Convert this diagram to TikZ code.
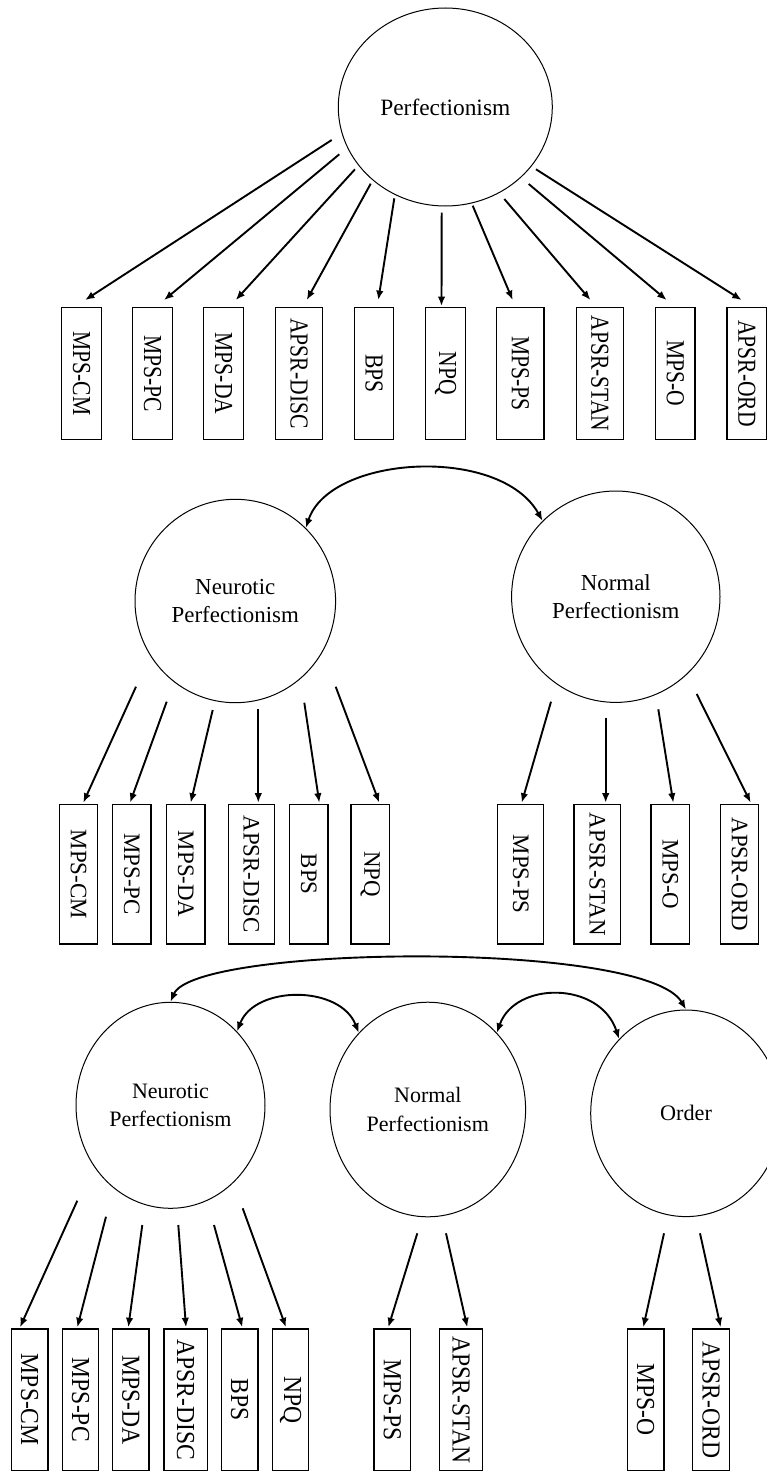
\documentclass[tikz,border=0pt]{standalone}
\usepackage{fontspec}
\setmainfont{Liberation Serif}
\usetikzlibrary{arrows.meta,shapes.geometric}
\newcommand\rowAfont{\fontsize{21.6}{26}\selectfont}
\newcommand\rowBfont{\fontsize{22.9}{27}\selectfont}
\newcommand\rowCfont{\fontsize{23.6}{28}\selectfont}
\newcommand\vlabel[2]{\rotatebox{-90}{\scalebox{1}[#1]{#2}}}
\begin{document}
\begin{tikzpicture}[x=1pt,y=-1pt,
  latent/.style={ellipse, draw, line width=1pt, inner sep=0pt, align=center},
  obs/.style={draw, line width=1.3pt, inner sep=0pt},
  obsA/.style={obs, minimum width=39.5pt, minimum height=131.5pt},
  obsAw/.style={obs, minimum width=47.3pt, minimum height=131.5pt},
  obsB/.style={obs, minimum width=38.3pt, minimum height=139.7pt},
  obsBw/.style={obs, minimum width=46.2pt, minimum height=139.7pt},
  obsC/.style={obs, minimum width=36.4pt, minimum height=141.7pt},
  obsCw/.style={obs, minimum width=43.3pt, minimum height=141.7pt},
  tipstyle/.style={-{Latex[length=9.5pt,width=7.5pt]}},
  arr/.style={line width=1.9pt, tipstyle},
  cov/.style={line width=1.9pt, {Latex[length=9.5pt,width=7.5pt]}-{Latex[length=9.5pt,width=7.5pt]}}]
\clip (0,0) rectangle (767,1474);
\fill[white] (0,0) rectangle (767,1474);

% ---------- one-factor model ----------
\node[latent, minimum width=214pt, minimum height=198pt,
      font=\fontsize{23.4}{28}\selectfont] (perf) at (445.3,107) {Perfectionism};

\node[obsA]  (a1)  at (81.5,373.5)  {\rowAfont\vlabel{1.2}{MPS-CM}};
\node[obsA]  (a2)  at (152.5,373.5) {\rowAfont\vlabel{1.2}{MPS-PC}};
\node[obsA]  (a3)  at (223.5,373.5) {\rowAfont\vlabel{1.2}{MPS-DA}};
\node[obsAw] (a4)  at (299,373.5)   {\rowAfont\vlabel{1.2}{APSR-DISC}};
\node[obsA]  (a5)  at (374,373.5)   {\rowAfont\vlabel{1.2}{BPS}};
\node[obsA]  (a6)  at (445.5,373.5) {\rowAfont\vlabel{1.2}{NPQ}};
\node[obsAw] (a7)  at (520.3,373.5) {\rowAfont\vlabel{1.2}{MPS-PS}};
\node[obsAw] (a8)  at (599.8,373.5) {\rowAfont\vlabel{1.2}{APSR-STAN}};
\node[obsA]  (a9)  at (675.3,373.5) {\rowAfont\vlabel{1.2}{MPS-O}};
\node[obsA]  (a10) at (746.8,373.5) {\rowAfont\vlabel{1.2}{APSR-ORD}};

\coordinate (sa1)  at (331.7,140);
\coordinate (sa2)  at (339.3,154.3);
\coordinate (sa3)  at (355,169.3);
\coordinate (sa4)  at (370.7,183.7);
\coordinate (sa5)  at (394.3,198.3);
\coordinate (sa6)  at (441.7,212.7);
\coordinate (sa7)  at (472.7,205.7);
\coordinate (sa8)  at (504.3,199);
\coordinate (sa9)  at (528.7,184);
\coordinate (sa10) at (536,169.3);

\draw[arr] (sa1)  -- ([xshift=3.5pt,yshift=7pt]a1.north);
\draw[arr] (sa2)  -- ([xshift=11.5pt,yshift=7pt]a2.north);
\draw[arr] (sa3)  -- ([xshift=12.2pt,yshift=7pt]a3.north);
\draw[arr] (sa4)  -- ([xshift=7.7pt,yshift=7pt]a4.north);
\draw[arr] (sa5)  -- ([xshift=4.3pt,yshift=7pt]a5.north);
\draw[arr] (sa6)  -- ([xshift=-4pt,yshift=1pt]a6.north);
\draw[arr] (sa7)  -- ([xshift=-7.6pt,yshift=7pt]a7.north);
\draw[arr] (sa8)  -- ([xshift=-9.3pt,yshift=7pt]a8.north);
\draw[arr] (sa9)  -- ([xshift=-8.6pt,yshift=7pt]a9.north);
\draw[arr] (sa10) -- ([xshift=-5.1pt,yshift=7pt]a10.north);

% ---------- two-factor model ----------
\node[latent, minimum width=200.6pt, minimum height=203.4pt,
      font=\fontsize{22.9}{28.4}\selectfont] (neu) at (235.3,601) {Neurotic\\Perfectionism};
\node[latent, minimum width=208.4pt, minimum height=211.4pt,
      font=\fontsize{22.9}{27.7}\selectfont] (nor) at (615.8,596.7) {Normal\\Perfectionism};

\draw[cov] (neu.46) .. controls (330,455) and (500,445) .. (nor.134);

\node[obsB]  (b1)  at (78.5,874.2)  {\rowBfont\vlabel{1.03}{MPS-CM}};
\node[obsB]  (b2)  at (131.8,874.2) {\rowBfont\vlabel{1.03}{MPS-PC}};
\node[obsB]  (b3)  at (185.8,874.2) {\rowBfont\vlabel{1.03}{MPS-DA}};
\node[obsBw] (b4)  at (251.3,874.2) {\rowBfont\vlabel{1.03}{APSR-DISC}};
\node[obsB]  (b5)  at (308.8,874.2) {\rowBfont\vlabel{1.03}{BPS}};
\node[obsB]  (b6)  at (370.2,874.2) {\rowBfont\vlabel{1.03}{NPQ}};
\node[obsBw] (b7)  at (520.7,874.2) {\rowBfont\vlabel{1.03}{MPS-PS}};
\node[obsBw] (b8)  at (597.2,874.2) {\rowBfont\vlabel{1.03}{APSR-STAN}};
\node[obsB]  (b9)  at (670.2,874.2) {\rowBfont\vlabel{1.03}{MPS-O}};
\node[obsB]  (b10) at (739.5,874.2) {\rowBfont\vlabel{1.03}{APSR-ORD}};

\coordinate (sb1)  at (136,686.7);
\coordinate (sb2)  at (166.7,701.7);
\coordinate (sb3)  at (212.7,710);
\coordinate (sb4)  at (258.3,709.3);
\coordinate (sb5)  at (304.3,702.7);
\coordinate (sb6)  at (335.7,686.7);
\coordinate (sb7)  at (551,701.7);
\coordinate (sb8)  at (605.7,717.7);
\coordinate (sb9)  at (658.3,709.3);
\coordinate (sb10) at (696.7,694);

\draw[arr] (sb1)  -- ([xshift=4.8pt,yshift=1pt]b1.north);
\draw[arr] (sb2)  -- ([xshift=-1.8pt,yshift=1pt]b2.north);
\draw[arr] (sb3)  -- ([xshift=4.9pt,yshift=1pt]b3.north);
\draw[arr] (sb4)  -- ([xshift=7pt,yshift=1pt]b4.north);
\draw[arr] (sb5)  -- ([xshift=10.5pt,yshift=1pt]b5.north);
\draw[arr] (sb6)  -- ([xshift=9.1pt,yshift=1pt]b6.north);
\draw[arr] (sb7)  -- ([xshift=1pt,yshift=1pt]b7.north);
\draw[arr] (sb8)  -- ([xshift=8.5pt,yshift=1pt]b8.north);
\draw[arr] (sb9)  -- ([xshift=3.1pt,yshift=1pt]b9.north);
\draw[arr] (sb10) -- ([xshift=11.2pt,yshift=1pt]b10.north);

% ---------- three-factor model ----------
\node[latent, minimum width=189pt, minimum height=206pt,
      font=\fontsize{22}{28.4}\selectfont] (neu3) at (170.5,1105.3) {Neurotic\\Perfectionism};
\node[latent, minimum width=195.6pt, minimum height=214.6pt,
      font=\fontsize{22}{28.4}\selectfont] (nor3) at (427.8,1109.5) {Normal\\Perfectionism};
\node[latent, minimum width=190.6pt, minimum height=206.6pt,
      font=\fontsize{22.2}{28}\selectfont] (ord) at (686,1113.3) {Order};

\draw[cov] (neu3.north) .. controls (195,945) and (645,940) .. (ord.north);
\draw[cov] (neu3.48) .. controls (255,985) and (340,985) .. (nor3.132);
\draw[cov] (nor3.48) .. controls (515,981) and (600,981) .. (ord.132);

\node[obsC]  (c1)  at (29.7,1399.8)  {\rowCfont\vlabel{1.1}{MPS-CM}};
\node[obsC]  (c2)  at (80.5,1399.8)  {\rowCfont\vlabel{1.1}{MPS-PC}};
\node[obsC]  (c3)  at (130.8,1399.8) {\rowCfont\vlabel{1.1}{MPS-DA}};
\node[obsCw] (c4)  at (185.7,1399.8) {\rowCfont\vlabel{1.1}{APSR-DISC}};
\node[obsC]  (c5)  at (239.7,1399.8) {\rowCfont\vlabel{1.1}{BPS}};
\node[obsC]  (c6)  at (290.5,1399.8) {\rowCfont\vlabel{1.1}{NPQ}};
\node[obsC]  (c7)  at (392.3,1399.8) {\rowCfont\vlabel{1.1}{MPS-PS}};
\node[obsCw] (c8)  at (461,1399.8)   {\rowCfont\vlabel{1.1}{APSR-STAN}};
\node[obsC]  (c9)  at (645.7,1399.8) {\rowCfont\vlabel{1.1}{MPS-O}};
\node[obsC]  (c10) at (711,1399.8)   {\rowCfont\vlabel{1.1}{APSR-ORD}};

\coordinate (sc1)  at (77.3,1200.7);
\coordinate (sc2)  at (106,1216.7);
\coordinate (sc3)  at (142.3,1225);
\coordinate (sc4)  at (178.3,1225);
\coordinate (sc5)  at (214,1225);
\coordinate (sc6)  at (242.7,1208.3);
\coordinate (sc7)  at (417.3,1233.3);
\coordinate (sc8)  at (446,1233.3);
\coordinate (sc9)  at (664,1233.3);
\coordinate (sc10) at (700,1233.3);

\draw[arr] (sc1)  -- ([xshift=-9.7pt,yshift=1pt]c1.north);
\draw[arr] (sc2)  -- ([xshift=-3.2pt,yshift=1pt]c2.north);
\draw[arr] (sc3)  -- ([xshift=-2.5pt,yshift=1pt]c3.north);
\draw[arr] (sc4)  -- ([xshift=0.3pt,yshift=1pt]c4.north);
\draw[arr] (sc5)  -- ([xshift=2.6pt,yshift=1pt]c5.north);
\draw[arr] (sc6)  -- ([xshift=-4.5pt,yshift=1pt]c6.north);
\draw[arr] (sc7)  -- ([xshift=-4pt,yshift=1pt]c7.north);
\draw[arr] (sc8)  -- ([xshift=6.3pt,yshift=1pt]c8.north);
\draw[arr] (sc9)  -- ([xshift=-2.4pt,yshift=1pt]c9.north);
\draw[arr] (sc10) -- ([xshift=9.7pt,yshift=1pt]c10.north);
\end{tikzpicture}
\end{document}
